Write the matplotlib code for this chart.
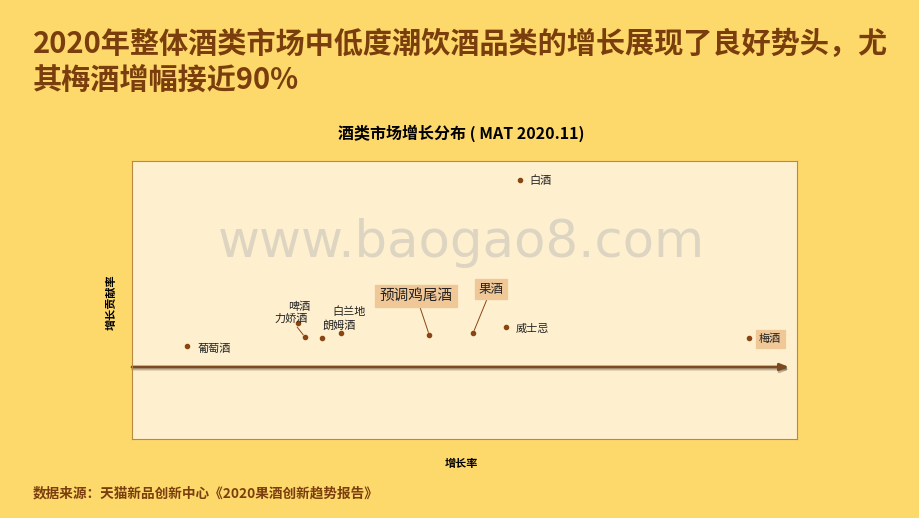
import matplotlib
matplotlib.use('Agg')
import matplotlib.pyplot as plt
import matplotlib.patheffects as pe

plt.rcParams['font.family'] = ['Noto Sans CJK SC', 'DejaVu Sans']

# 增长率 (x) / 增长贡献率 (y), 无刻度, 数值按图中位置估读
names = ['葡萄酒', '啤酒', '力娇酒', '朗姆酒', '白兰地', '预调鸡尾酒', '果酒', '威士忌', '白酒', '梅酒']
growth = [8.3, 25.0, 26.0, 28.6, 31.4, 44.7, 51.3, 56.2, 58.3, 92.8]
contrib = [2.1, 4.4, 3.0, 2.9, 3.4, 3.2, 3.4, 4.0, 18.7, 2.9]
highlight = ['预调鸡尾酒', '果酒', '梅酒']

# 标签偏移 (像素) 与字号
offsets = {
    '葡萄酒': (10, -3, 'left', 8),
    '啤酒': (1, 16, 'center', 8),
    '力娇酒': (-14, 18, 'center', 8),
    '朗姆酒': (17, 12, 'center', 8),
    '白兰地': (8, 21, 'center', 8),
    '预调鸡尾酒': (-13, 39, 'center', 10.5),
    '果酒': (18, 44, 'center', 9),
    '威士忌': (10, -2, 'left', 8),
    '白酒': (10, -1, 'left', 8),
    '梅酒': (21, -1, 'center', 8),
}
leaders = ['力娇酒', '预调鸡尾酒', '果酒']

bg = '#FDD86A'
brown = '#7A3E0E'

fig = plt.figure(figsize=(9.2, 5.18), dpi=100, facecolor=bg)
ax = fig.add_axes([132/920, 1-439/518, 665/920, 278/518])
ax.set_facecolor('#FEF0CF')
for s in ax.spines.values():
    s.set_color('#B98A3E')
    s.set_linewidth(0.8)
ax.set_xlim(0, 100)
ax.set_ylim(-7.2, 20.6)
ax.set_xticks([])
ax.set_yticks([])

# 水印
ax.text(49.5, 12.4, 'www.baogao8.com', ha='center', va='center', fontsize=37,
        color='#DDD5C2', family='DejaVu Sans', zorder=1)

# x 轴箭头
ax.annotate('', xy=(98.8, 0), xytext=(0, 0),
            arrowprops=dict(arrowstyle='-|>,head_length=0.5,head_width=0.2',
                            color='#7B4A20', lw=2, shrinkA=0, shrinkB=0,
                            path_effects=[pe.SimpleLineShadow(offset=(0.5, -1.5), alpha=0.25),
                                          pe.Normal()]),
            zorder=2)

ax.scatter(growth, contrib, s=9, color='#8B4513', zorder=4)

for n, x, y in zip(names, growth, contrib):
    dx, dy, ha, fs = offsets[n]
    kw = {}
    if n in highlight:
        kw['bbox'] = dict(boxstyle='square,pad=0.3', fc='#F0C898', ec='#F0C898')
    if n in leaders:
        kw['arrowprops'] = dict(arrowstyle='-', color='#8B4513', lw=0.7,
                                shrinkA=0, shrinkB=2)
    ax.annotate(n, (x, y), xytext=(dx, dy), textcoords='offset pixels',
                ha=ha, va='center', fontsize=fs, color='#222222', zorder=5, **kw)

fig.text(461/920, 1-133/518, '酒类市场增长分布 ( MAT 2020.11)', ha='center', va='center',
         fontsize=11.5, fontweight='bold', color='black')
fig.text(461/920, 1-463/518, '增长率', ha='center', va='center', fontsize=8,
         fontweight='bold')
fig.text(111/920, 1-302/518, '增长贡献率', ha='center', va='center', fontsize=8,
         fontweight='bold', rotation=90)

fig.text(33/920, 1-62/518, '2020年整体酒类市场中低度潮饮酒品类的增长展现了良好势头，尤\n其梅酒增幅接近90%',
         ha='left', va='center', fontsize=21, fontweight='bold', color=brown,
         linespacing=1.25)
fig.text(33/920, 1-493/518, '数据来源：天猫新品创新中心《2020果酒创新趋势报告》',
         ha='left', va='center', fontsize=9.8, fontweight='bold', color=brown)

fig.savefig('out.png', dpi=100, facecolor=bg)
